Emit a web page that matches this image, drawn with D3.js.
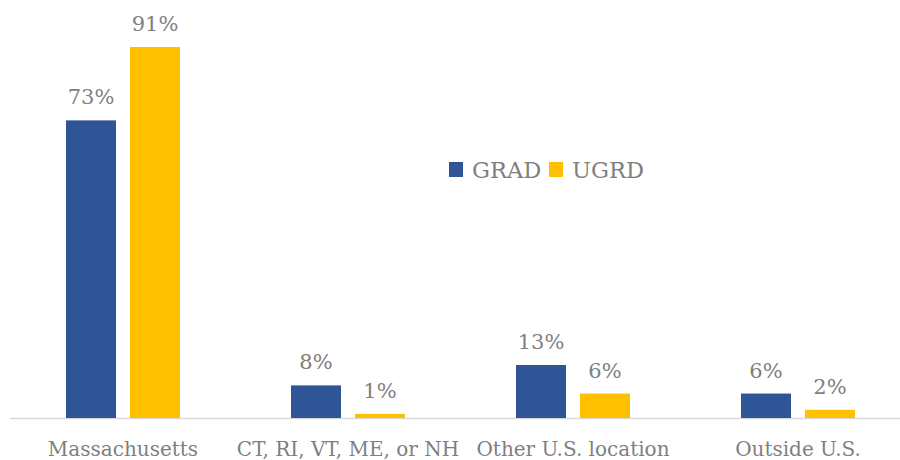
<!DOCTYPE html>
<html>
<head>
<meta charset="utf-8">
<script src="https://cdn.jsdelivr.net/npm/d3@7"></script>
<style>
  body { margin: 0; background: #fff; }
  text { font-family: "DejaVu Serif", serif; fill: #7f7f7f; }
</style>
</head>
<body>
<svg id="chart"></svg>
<script>
// data
var categories = ["Massachusetts", "CT, RI, VT, ME, or NH", "Other U.S. location", "Outside U.S."];
var seriesNames = ["GRAD", "UGRD"];
var grad = [73, 8, 13, 6];
var ugrd = [91, 1, 6, 2];
var colors = ["#2f5597", "#ffc000"];

var w = 900, h = 460;
var baseY = 418;

var svg = d3.select("#chart").attr("width", w).attr("height", h);

var x = d3.scaleBand()
    .domain(categories)
    .range([10.5, 910.5]);

var x1 = d3.scaleBand()
    .domain(seriesNames)
    .range([0, 114])
    .paddingInner(0.21875);

var y = d3.scaleLinear()
    .domain([0, 100])
    .range([baseY, 10.3]);

var rows = categories.map(function(c, i){
    return {cat: c, vals: [grad[i], ugrd[i]]};
});

// baseline
svg.append("line")
    .attr("x1", 10).attr("x2", 900)
    .attr("y1", baseY + 0.5).attr("y2", baseY + 0.5)
    .attr("stroke", "#d9d9d9")
    .attr("stroke-width", 1.5);

var groups = svg.selectAll(".grp")
    .data(rows)
    .enter()
    .append("g")
    .attr("transform", function(d){
        return "translate(" + (x(d.cat) + x.bandwidth()/2 - 57) + ",0)";
    });

groups.selectAll("rect")
    .data(function(d){ return d.vals.map(function(v, j){ return {s: seriesNames[j], v: v, j: j}; }); })
    .enter()
    .append("rect")
    .attr("x", function(d){ return x1(d.s); })
    .attr("width", x1.bandwidth())
    .attr("y", function(d){ return y(d.v); })
    .attr("height", function(d){ return baseY - y(d.v); })
    .attr("fill", function(d){ return colors[d.j]; });

groups.selectAll(".lbl")
    .data(function(d){ return d.vals.map(function(v, j){ return {s: seriesNames[j], v: v}; }); })
    .enter()
    .append("text")
    .attr("x", function(d){ return x1(d.s) + x1.bandwidth()/2; })
    .attr("y", function(d){ return y(d.v) - 16; })
    .attr("text-anchor", "middle")
    .style("font-size", "21px")
    .text(function(d){ return d.v + "%"; });

// category labels
svg.selectAll(".cat")
    .data(categories)
    .enter()
    .append("text")
    .attr("x", function(d){ return x(d) + x.bandwidth()/2; })
    .attr("y", 456)
    .attr("text-anchor", "middle")
    .style("font-size", "20px")
    .text(function(d){ return d; });

// legend
var legend = svg.append("g");
var legX = [449, 549];
seriesNames.forEach(function(s, i){
    legend.append("rect")
        .attr("x", legX[i]).attr("y", 162)
        .attr("width", 14).attr("height", 15)
        .attr("fill", colors[i]);
    legend.append("text")
        .attr("x", legX[i] + 23).attr("y", 178)
        .style("font-size", "22.5px")
        .text(s);
});
</script>
</body>
</html>
